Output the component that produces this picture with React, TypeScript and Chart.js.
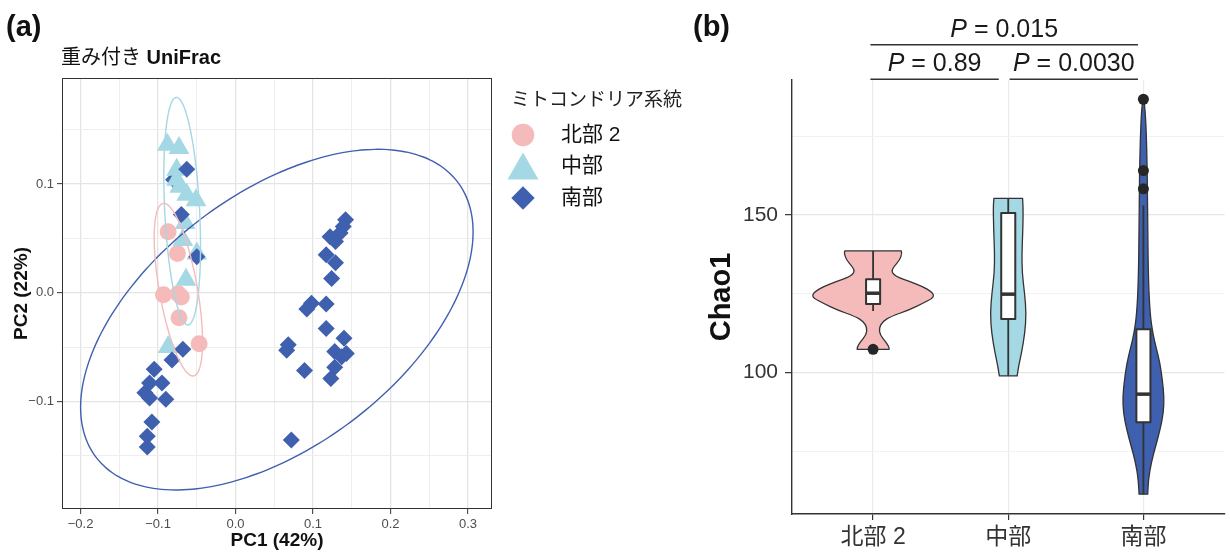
import React, { useEffect, useRef } from 'react';
import { Chart, registerables } from 'chart.js';

Chart.register(...registerables);

const FONT = '"Liberation Sans", "Noto Sans CJK JP", sans-serif';

// ---------- shared groups ----------
const groupLabels = ['北部 2', '中部', '南部'];
const groupColors = ['#F5BBBB', '#A3D8E4', '#3F60AE'];
const legendTitle = 'ミトコンドリア系統';

// ---------- (a) weighted UniFrac PCoA ----------
const north2PC1 = [-0.087, -0.075, -0.093, -0.074, -0.070, -0.073, -0.047];
const north2PC2 = [0.056, 0.036, -0.002, -0.001, -0.004, -0.023, -0.047];

const centralPC1 = [-0.088, -0.073, -0.076, -0.076, -0.072, -0.063, -0.051, -0.065, -0.068, -0.050, -0.064, -0.087];
const centralPC2 = [0.136, 0.133, 0.113, 0.104, 0.0975, 0.090, 0.085, 0.064, 0.0485, 0.036, 0.012, -0.050];

const southPC1 = [
  -0.063, -0.070, -0.050, -0.068, -0.082, -0.105, -0.111, -0.095, -0.117, -0.111, -0.090,
  -0.108, -0.114, -0.114, 0.142, 0.139, 0.135, 0.122, 0.129, 0.117, 0.129, 0.124, 0.098, 0.092,
  0.117, 0.117, 0.140, 0.068, 0.066, 0.128, 0.143, 0.137, 0.089, 0.128, 0.123, 0.072,
];
const southPC2 = [
  0.1135, 0.072, 0.033, -0.052, -0.062, -0.0705, -0.083, -0.083, -0.092, -0.097, -0.098,
  -0.119, -0.132, -0.142, 0.067, 0.061, 0.055, 0.0515, 0.047, 0.035, 0.0276, 0.013, -0.0098, -0.015,
  -0.0104, -0.033, -0.042, -0.048, -0.053, -0.054, -0.056, -0.059, -0.0717, -0.0686, -0.079, -0.1355,
];
// south sample plotted beneath the 中部 triangles
const southBehindPC1 = [-0.080];
const southBehindPC2 = [0.104];

// 95% ellipses (centre, x half-extent, y half-extent, phase in degrees)
const ellipseCenterX = [-0.0738, -0.0689, 0.0533];
const ellipseCenterY = [0.0028, 0.075, -0.0248];
const ellipseRadiusX = [0.0312, 0.0237, 0.2533];
const ellipseRadiusY = [0.0794, 0.1047, 0.1567];
const ellipsePhaseDeg = [127, 108, 59];

const pcXMajor = [-0.2, -0.1, 0, 0.1, 0.2, 0.3];
const pcXLabels = ['−0.2', '−0.1', '0.0', '0.1', '0.2', '0.3'];
const pcXMinor = [-0.15, -0.05, 0.05, 0.15, 0.25];
const pcYMajor = [-0.1, 0, 0.1];
const pcYLabels = ['−0.1', '0.0', '0.1'];
const pcYMinor = [-0.15, -0.05, 0.05, 0.15];

// ---------- (b) Chao1 ----------
const north2ViolinY = [138.6, 137.9, 135.7, 133.6, 132.0, 130.4, 128.9, 127.3, 125.7, 124.6, 123.6, 122.0, 119.9, 117.8, 116.2, 114.1, 112.0, 109.8, 108.2, 107.4];
const north2ViolinW = [0.209, 0.214, 0.197, 0.153, 0.135, 0.172, 0.271, 0.369, 0.430, 0.450, 0.438, 0.369, 0.266, 0.130, 0.069, 0.044, 0.052, 0.093, 0.118, 0.118];
const centralViolinY = [155.3, 152.6, 145.3, 137.9, 131.5, 125.2, 118.8, 112.5, 106.2, 101.9, 99.0];
const centralViolinW = [0.106, 0.111, 0.108, 0.101, 0.103, 0.121, 0.133, 0.123, 0.098, 0.076, 0.066];
const southViolinY = [186.7, 182.3, 174.9, 166.4, 157.9, 145.3, 129.4, 118.8, 112.5, 108.2, 103.0, 97.7, 92.4, 87.1, 81.8, 76.5, 71.3, 66.0, 61.5];
const southViolinW = [0.004, 0.015, 0.022, 0.027, 0.030, 0.032, 0.037, 0.049, 0.069, 0.093, 0.123, 0.140, 0.153, 0.148, 0.123, 0.089, 0.057, 0.037, 0.032];

const boxLowerWhisker = [119.6, 99.0, 61.5];
const boxQ1 = [121.8, 117.0, 84.3];
const boxMedian = [125.2, 124.9, 93.2];
const boxQ3 = [129.6, 150.6, 113.8];
const boxUpperWhisker = [138.6, 155.3, 153.0];

const north2Outliers = [107.4];
const centralOutliers: number[] = [];
const southOutliers = [158.3, 164.1, 186.7];

const chaoMajor = [100, 150];
const chaoLabels = ['100', '150'];
const chaoMinor = [75, 125, 175];

const bracketStart = [-0.02, 1.01, -0.02];
const bracketEnd = [0.93, 1.96, 1.96];
const bracketY = [193, 193, 204];
const bracketP = ['0.89', '0.0030', '0.015'];

// ---------- helpers ----------
const near = (v: number, arr: number[]) => arr.findIndex((m) => Math.abs(m - v) < 1e-9);
const merged = (a: number[], b: number[]) => [...a, ...b].sort((p, q) => p - q);

function ellipsePoints(i: number) {
  const pts: { x: number; y: number }[] = [];
  const phi = (ellipsePhaseDeg[i] * Math.PI) / 180;
  const n = 120;
  for (let k = 0; k <= n; k++) {
    const t = (2 * Math.PI * k) / n;
    pts.push({
      x: ellipseCenterX[i] + ellipseRadiusX[i] * Math.cos(t),
      y: ellipseCenterY[i] + ellipseRadiusY[i] * Math.cos(t - phi),
    });
  }
  return pts;
}

type Run = { text: string; font: string };
function drawRuns(ctx: CanvasRenderingContext2D, runs: Run[], x: number, y: number, align: 'left' | 'center') {
  let total = 0;
  runs.forEach((r) => {
    ctx.font = r.font;
    total += ctx.measureText(r.text).width;
  });
  let cx = align === 'center' ? x - total / 2 : x;
  ctx.textAlign = 'left';
  runs.forEach((r) => {
    ctx.font = r.font;
    ctx.fillText(r.text, cx, y);
    cx += ctx.measureText(r.text).width;
  });
}

function smoothThrough(ctx: CanvasRenderingContext2D, P: { x: number; y: number }[]) {
  for (let i = 1; i < P.length - 1; i++) {
    const mx = (P[i].x + P[i + 1].x) / 2;
    const my = (P[i].y + P[i + 1].y) / 2;
    ctx.quadraticCurveTo(P[i].x, P[i].y, mx, my);
  }
  ctx.lineTo(P[P.length - 1].x, P[P.length - 1].y);
}

// ---------- panel (a) decorations ----------
const panelAPlugin = {
  id: 'panelA',
  afterDraw(chart: any) {
    const { ctx, chartArea: ca } = chart;
    ctx.save();
    // panel border
    ctx.strokeStyle = '#333333';
    ctx.lineWidth = 1;
    ctx.strokeRect(ca.left + 0.5, ca.top + 0.5, ca.right - ca.left - 1, ca.bottom - ca.top - 1);

    ctx.fillStyle = '#111111';
    ctx.textBaseline = 'middle';
    ctx.textAlign = 'left';
    ctx.font = `bold 29px ${FONT}`;
    ctx.fillText('(a)', 6, 28);

    drawRuns(ctx, [
      { text: '重み付き ', font: `20px ${FONT}` },
      { text: 'UniFrac', font: `bold 20px ${FONT}` },
    ], 61, 58, 'left');

    // axis titles
    ctx.font = `bold 19px ${FONT}`;
    ctx.textAlign = 'center';
    ctx.fillText('PC1 (42%)', (ca.left + ca.right) / 2, 541);
    ctx.save();
    ctx.translate(22, (ca.top + ca.bottom) / 2);
    ctx.rotate(-Math.PI / 2);
    ctx.fillText('PC2 (22%)', 0, 0);
    ctx.restore();

    // legend
    ctx.fillStyle = '#222222';
    ctx.textAlign = 'left';
    ctx.font = `19px ${FONT}`;
    ctx.fillText(legendTitle, 511, 101);
    const keyX = 523;
    const rowY = [135, 166, 198];
    groupLabels.forEach((lab, i) => {
      const y = rowY[i];
      ctx.fillStyle = groupColors[i];
      ctx.beginPath();
      if (i === 0) {
        ctx.arc(keyX, y, 11.3, 0, Math.PI * 2);
      } else if (i === 1) {
        ctx.moveTo(keyX, y - 13.5);
        ctx.lineTo(keyX + 15.5, y + 13.5);
        ctx.lineTo(keyX - 15.5, y + 13.5);
        ctx.closePath();
      } else {
        ctx.moveTo(keyX, y - 11.7);
        ctx.lineTo(keyX + 11.7, y);
        ctx.lineTo(keyX, y + 11.7);
        ctx.lineTo(keyX - 11.7, y);
        ctx.closePath();
      }
      ctx.fill();
      ctx.fillStyle = '#111111';
      ctx.font = `21px ${FONT}`;
      ctx.fillText(lab, 561, y);
    });
    ctx.restore();
  },
};

// ---------- panel (b) violins / boxes / annotations ----------
const violinY = [north2ViolinY, centralViolinY, southViolinY];
const violinW = [north2ViolinW, centralViolinW, southViolinW];
const BOX_HALF = 0.052;

const panelBPlugin = {
  id: 'panelB',
  beforeDatasetsDraw(chart: any) {
    const { ctx, scales } = chart;
    const xs = scales.x;
    const ys = scales.y;
    ctx.save();
    for (let g = 0; g < 3; g++) {
      const vy = violinY[g];
      const vw = violinW[g];
      const right = vy.map((v, k) => ({ x: xs.getPixelForValue(g + vw[k]), y: ys.getPixelForValue(v) }));
      const left = vy.map((v, k) => ({ x: xs.getPixelForValue(g - vw[k]), y: ys.getPixelForValue(v) })).reverse();
      ctx.beginPath();
      ctx.moveTo(right[0].x, right[0].y);
      smoothThrough(ctx, right);
      ctx.lineTo(left[0].x, left[0].y);
      smoothThrough(ctx, left);
      ctx.closePath();
      ctx.fillStyle = groupColors[g];
      ctx.fill();
      ctx.strokeStyle = '#333333';
      ctx.lineWidth = 1.3;
      ctx.lineJoin = 'round';
      ctx.stroke();

      // whiskers
      const cx = xs.getPixelForValue(g);
      ctx.beginPath();
      ctx.moveTo(cx, ys.getPixelForValue(boxUpperWhisker[g]));
      ctx.lineTo(cx, ys.getPixelForValue(boxQ3[g]));
      ctx.moveTo(cx, ys.getPixelForValue(boxQ1[g]));
      ctx.lineTo(cx, ys.getPixelForValue(boxLowerWhisker[g]));
      ctx.lineWidth = 1.8;
      ctx.stroke();

      // box
      const x0 = xs.getPixelForValue(g - BOX_HALF);
      const x1 = xs.getPixelForValue(g + BOX_HALF);
      const yq3 = ys.getPixelForValue(boxQ3[g]);
      const yq1 = ys.getPixelForValue(boxQ1[g]);
      ctx.fillStyle = '#FFFFFF';
      ctx.fillRect(x0, yq3, x1 - x0, yq1 - yq3);
      ctx.lineWidth = 2;
      ctx.strokeRect(x0, yq3, x1 - x0, yq1 - yq3);
      const ym = ys.getPixelForValue(boxMedian[g]);
      ctx.beginPath();
      ctx.moveTo(x0, ym);
      ctx.lineTo(x1, ym);
      ctx.lineWidth = 3.5;
      ctx.stroke();
    }
    ctx.restore();
  },
  afterDraw(chart: any) {
    const { ctx, scales, chartArea: ca } = chart;
    const xs = scales.x;
    const ys = scales.y;
    ctx.save();
    ctx.strokeStyle = '#333333';
    ctx.lineWidth = 1.5;
    ctx.fillStyle = '#1A1A1A';
    ctx.textBaseline = 'alphabetic';
    for (let i = 0; i < bracketP.length; i++) {
      const xa = xs.getPixelForValue(bracketStart[i]);
      const xb = xs.getPixelForValue(bracketEnd[i]);
      const y = ys.getPixelForValue(bracketY[i]);
      ctx.beginPath();
      ctx.moveTo(xa, y);
      ctx.lineTo(xb, y);
      ctx.stroke();
      drawRuns(ctx, [
        { text: 'P', font: `italic 25px ${FONT}` },
        { text: ` = ${bracketP[i]}`, font: `25px ${FONT}` },
      ], (xa + xb) / 2, y - 8, 'center');
    }

    ctx.textBaseline = 'middle';
    ctx.fillStyle = '#111111';
    ctx.textAlign = 'left';
    ctx.font = `bold 29px ${FONT}`;
    ctx.fillText('(b)', 3, 28);

    ctx.save();
    ctx.translate(32, (ca.top + ca.bottom) / 2);
    ctx.rotate(-Math.PI / 2);
    ctx.textAlign = 'center';
    ctx.font = `bold 29px ${FONT}`;
    ctx.fillText('Chao1', 0, 0);
    ctx.restore();
    ctx.restore();
  },
};

export default function App() {
  const refA = useRef<HTMLCanvasElement>(null);
  const refB = useRef<HTMLCanvasElement>(null);

  useEffect(() => {
    const pts = (xs: number[], ys: number[]) => xs.map((x, i) => ({ x, y: ys[i] }));
    const majorColorA = '#E4E4E4';
    const minorColorA = '#EEEEEE';

    const chartA = new Chart(refA.current as HTMLCanvasElement, {
      type: 'scatter',
      data: {
        datasets: [
          { label: groupLabels[2] + ' (behind)', data: pts(southBehindPC1, southBehindPC2), pointStyle: 'rectRot', pointRadius: 8.5, backgroundColor: groupColors[2], borderWidth: 0, order: 4 },
          { label: groupLabels[0], data: pts(north2PC1, north2PC2), pointStyle: 'circle', pointRadius: 8.5, backgroundColor: groupColors[0], borderWidth: 0, order: 3 },
          { label: groupLabels[1], data: pts(centralPC1, centralPC2), pointStyle: 'triangle', pointRadius: 12, backgroundColor: groupColors[1], borderWidth: 0, order: 2 },
          { label: groupLabels[2], data: pts(southPC1, southPC2), pointStyle: 'rectRot', pointRadius: 8.5, backgroundColor: groupColors[2], borderWidth: 0, order: 1 },
          ...[0, 1, 2].map((i) => ({
            label: `ellipse-${i}`,
            data: ellipsePoints(i),
            showLine: true,
            pointRadius: 0,
            borderColor: groupColors[i],
            borderWidth: 1.4,
            fill: false,
            tension: 0.4,
            order: 0,
          })),
        ] as any,
      },
      options: {
        responsive: false,
        animation: false,
        devicePixelRatio: 1,
        layout: { padding: { left: 0, top: 78, right: 198, bottom: 0 } },
        plugins: { legend: { display: false }, tooltip: { enabled: false } },
        scales: {
          x: {
            type: 'linear',
            min: -0.224,
            max: 0.331,
            afterBuildTicks: (s: any) => { s.ticks = merged(pcXMajor, pcXMinor).map((v) => ({ value: v })); },
            afterFit: (s: any) => { s.height = 45; },
            ticks: {
              autoSkip: false,
              maxRotation: 0,
              padding: 3,
              color: '#4D4D4D',
              font: { family: FONT, size: 13 },
              callback: (v: any) => { const k = near(Number(v), pcXMajor); return k >= 0 ? pcXLabels[k] : ''; },
            },
            grid: {
              color: (c: any) => (c.tick && near(c.tick.value, pcXMajor) >= 0 ? majorColorA : minorColorA),
              lineWidth: (c: any) => (c.tick && near(c.tick.value, pcXMajor) >= 0 ? 1.3 : 1),
              tickColor: (c: any) => (c.tick && near(c.tick.value, pcXMajor) >= 0 ? '#333333' : 'rgba(0,0,0,0)'),
              tickLength: 5,
              tickWidth: 1,
            },
            border: { display: false },
          },
          y: {
            type: 'linear',
            min: -0.199,
            max: 0.1975,
            afterBuildTicks: (s: any) => { s.ticks = merged(pcYMajor, pcYMinor).map((v) => ({ value: v })); },
            afterFit: (s: any) => { s.width = 62; },
            ticks: {
              autoSkip: false,
              padding: 3,
              color: '#4D4D4D',
              font: { family: FONT, size: 13 },
              callback: (v: any) => { const k = near(Number(v), pcYMajor); return k >= 0 ? pcYLabels[k] : ''; },
            },
            grid: {
              color: (c: any) => (c.tick && near(c.tick.value, pcYMajor) >= 0 ? majorColorA : minorColorA),
              lineWidth: (c: any) => (c.tick && near(c.tick.value, pcYMajor) >= 0 ? 1.3 : 1),
              tickColor: (c: any) => (c.tick && near(c.tick.value, pcYMajor) >= 0 ? '#333333' : 'rgba(0,0,0,0)'),
              tickLength: 5,
              tickWidth: 1,
            },
            border: { display: false },
          },
        },
      } as any,
      plugins: [panelAPlugin],
    });

    const outlierPoints = [
      ...north2Outliers.map((v) => ({ x: 0, y: v })),
      ...centralOutliers.map((v) => ({ x: 1, y: v })),
      ...southOutliers.map((v) => ({ x: 2, y: v })),
    ];

    const chartB = new Chart(refB.current as HTMLCanvasElement, {
      type: 'scatter',
      data: {
        datasets: [
          { label: 'outliers', data: outlierPoints, pointStyle: 'circle', pointRadius: 5.5, backgroundColor: '#262626', borderWidth: 0 },
        ],
      },
      options: {
        responsive: false,
        animation: false,
        devicePixelRatio: 1,
        layout: { padding: { left: 0, top: 80, right: 3, bottom: 0 } },
        plugins: { legend: { display: false }, tooltip: { enabled: false } },
        scales: {
          x: {
            type: 'linear',
            min: -0.6,
            max: 2.6,
            afterBuildTicks: (s: any) => { s.ticks = groupLabels.map((_, i) => ({ value: i })); },
            afterFit: (s: any) => { s.height = 40; },
            ticks: {
              autoSkip: false,
              maxRotation: 0,
              padding: 4,
              color: '#333333',
              font: { family: FONT, size: 23 },
              callback: (v: any) => groupLabels[Math.round(Number(v))] ?? '',
            },
            grid: { color: '#EBEBEB', lineWidth: 1.2, tickColor: '#333333', tickLength: 6, tickWidth: 1.2 },
            border: { display: true, color: '#333333', width: 1.4 },
          },
          y: {
            type: 'linear',
            min: 55.2,
            max: 192.8,
            afterBuildTicks: (s: any) => { s.ticks = merged(chaoMajor, chaoMinor).map((v) => ({ value: v })); },
            afterFit: (s: any) => { s.width = 102; },
            ticks: {
              autoSkip: false,
              padding: 7,
              color: '#333333',
              font: { family: FONT, size: 21 },
              callback: (v: any) => { const k = near(Number(v), chaoMajor); return k >= 0 ? chaoLabels[k] : ''; },
            },
            grid: {
              color: (c: any) => (c.tick && near(c.tick.value, chaoMajor) >= 0 ? '#E6E6E6' : '#F0F0F0'),
              lineWidth: (c: any) => (c.tick && near(c.tick.value, chaoMajor) >= 0 ? 1.3 : 0.9),
              tickColor: (c: any) => (c.tick && near(c.tick.value, chaoMajor) >= 0 ? '#333333' : 'rgba(0,0,0,0)'),
              tickLength: 7,
              tickWidth: 1.2,
            },
            border: { display: true, color: '#333333', width: 1.4 },
          },
        },
      } as any,
      plugins: [panelBPlugin],
    });

    return () => {
      chartA.destroy();
      chartB.destroy();
    };
  }, []);

  return (
    <div style={{ position: 'absolute', left: 0, top: 0, width: 1230, height: 554, background: '#FFFFFF' }}>
      <canvas ref={refA} width={690} height={554} style={{ position: 'absolute', left: 0, top: 0, width: 690, height: 554 }} />
      <canvas ref={refB} width={540} height={554} style={{ position: 'absolute', left: 690, top: 0, width: 540, height: 554 }} />
    </div>
  );
}
